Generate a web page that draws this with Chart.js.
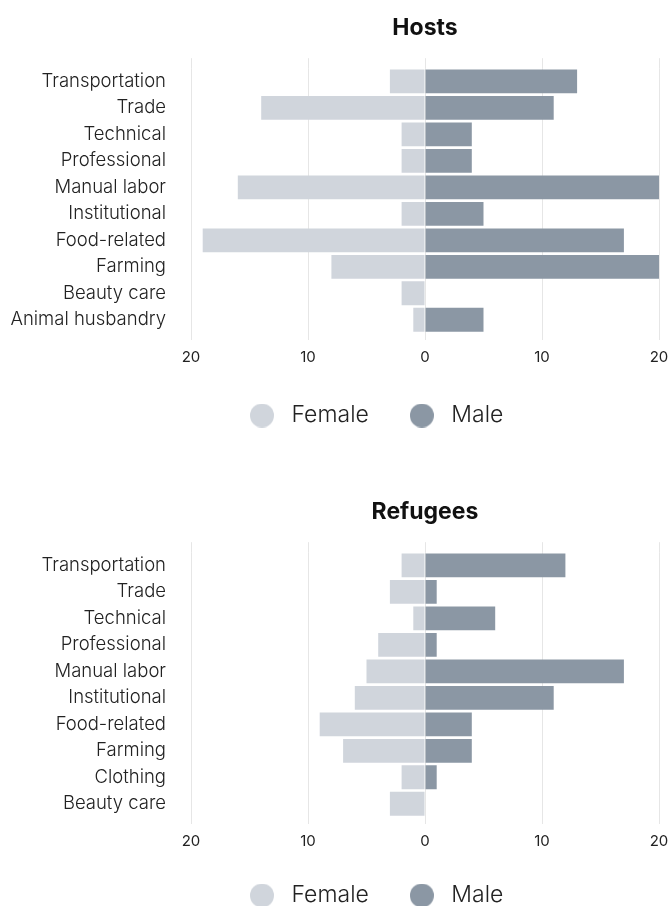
<!DOCTYPE html>
<html><head><meta charset="utf-8">
<script src="https://cdn.jsdelivr.net/npm/chart.js@4/dist/chart.umd.min.js"></script>
<style>
html,body{margin:0;padding:0;background:#fff;overflow:hidden;width:670px;height:906px;}
.wrap{position:absolute;left:0;width:670px;height:484px;}
</style></head><body>
<div class="wrap" style="top:0"><canvas id="c1" width="670" height="484"></canvas></div>
<div class="wrap" style="top:484px"><canvas id="c2" width="670" height="484"></canvas></div>
<script>
// ---- data ----
const hostCategories = ["Transportation","Trade","Technical","Professional","Manual labor","Institutional","Food-related","Farming","Beauty care","Animal husbandry"];
const hostFemale = [3,14,2,2,16,2,19,8,2,1];
const hostMale   = [13,11,4,4,21,5,17,21,0,5];

const refugeeCategories = ["Transportation","Trade","Technical","Professional","Manual labor","Institutional","Food-related","Farming","Clothing","Beauty care"];
const refugeeFemale = [2,3,1,4,5,6,9,7,2,3];
const refugeeMale   = [12,1,6,1,17,11,4,4,1,0];

const seriesNames = ["Female","Male"];
const axisTicks = [-20,-10,0,10,20];

// ---- style ----
const FEMALE = '#d0d5dc';
const MALE = '#8b97a4';
const GRID = '#e6e6e6';
const FONT = 'Inter, "Noto Sans", sans-serif';

function dot(color){
  const c = document.createElement('canvas');
  c.width = 24; c.height = 24;
  const g = c.getContext('2d');
  g.fillStyle = color; g.beginPath(); g.arc(12,12,12,0,Math.PI*2); g.fill();
  return c;
}

const layoutTweak = {
  id: 'layoutTweak',
  afterLayout(chart){
    const ca = chart.chartArea;
    if (chart.titleBlock){ chart.titleBlock.left = ca.left; chart.titleBlock.right = ca.right; }
    if (chart.legend){ chart.legend.left = 209; }
  }
};

function makeChart(id, title, cats, female, male, legendLift){
  new Chart(document.getElementById(id), {
    type: 'bar',
    data: {
      labels: cats,
      datasets: [
        {label: seriesNames[0], data: female.map(v => -v), backgroundColor: FEMALE, pointStyle: dot(FEMALE), categoryPercentage: 0.9, barPercentage: 1.0},
        {label: seriesNames[1], data: male, backgroundColor: MALE, pointStyle: dot(MALE), categoryPercentage: 0.9, barPercentage: 1.0}
      ]
    },
    options: {
      indexAxis: 'y',
      responsive: false,
      animation: false,
      devicePixelRatio: 1,
      layout: {padding: {left: 0, right: 11, top: 0, bottom: 45 + legendLift}},
      scales: {
        x: {
          stacked: true, min: axisTicks[0], max: axisTicks[axisTicks.length-1],
          afterBuildTicks(s){ s.ticks = axisTicks.map(v => ({value: v})); },
          ticks: {callback: v => Math.abs(v), color: '#222', padding: 8, font: {family: FONT, size: 15}},
          grid: {color: GRID, drawTicks: true, tickLength: 7},
          border: {display: false},
          afterFit(s){ s.height -= (3 + legendLift); s.paddingLeft = 0; s.paddingRight = 0; }
        },
        x2: {
          type: 'linear', position: 'top', min: axisTicks[0], max: axisTicks[axisTicks.length-1],
          afterBuildTicks(s){ s.ticks = axisTicks.map(v => ({value: v})); },
          ticks: {display: false},
          grid: {color: GRID, drawOnChartArea: false, drawTicks: true, tickLength: 10},
          border: {display: false},
          afterFit(s){ s.paddingLeft = 0; s.paddingRight = 0; }
        },
        y: {
          stacked: true,
          ticks: {color: '#222', padding: 25, font: {family: FONT, size: 18.5, weight: 300}},
          grid: {display: false, drawTicks: false},
          border: {display: false},
          afterFit(s){ s.width = 191; }
        }
      },
      plugins: {
        title: {display: true, text: title, color: '#111', font: {family: FONT, size: 23, weight: 'bold'}, padding: {top: 14, bottom: 16.6}},
        legend: {
          position: 'bottom', align: 'start',
          labels: {usePointStyle: true, pointStyleWidth: 36, padding: 35, color: '#222', font: {family: FONT, size: 23, weight: 300}}
        },
        tooltip: {enabled: false}
      }
    },
    plugins: [layoutTweak]
  });
}

makeChart('c1', 'Hosts', hostCategories, hostFemale, hostMale, 2);
makeChart('c2', 'Refugees', refugeeCategories, refugeeFemale, refugeeMale, 6);
</script>
</body></html>
